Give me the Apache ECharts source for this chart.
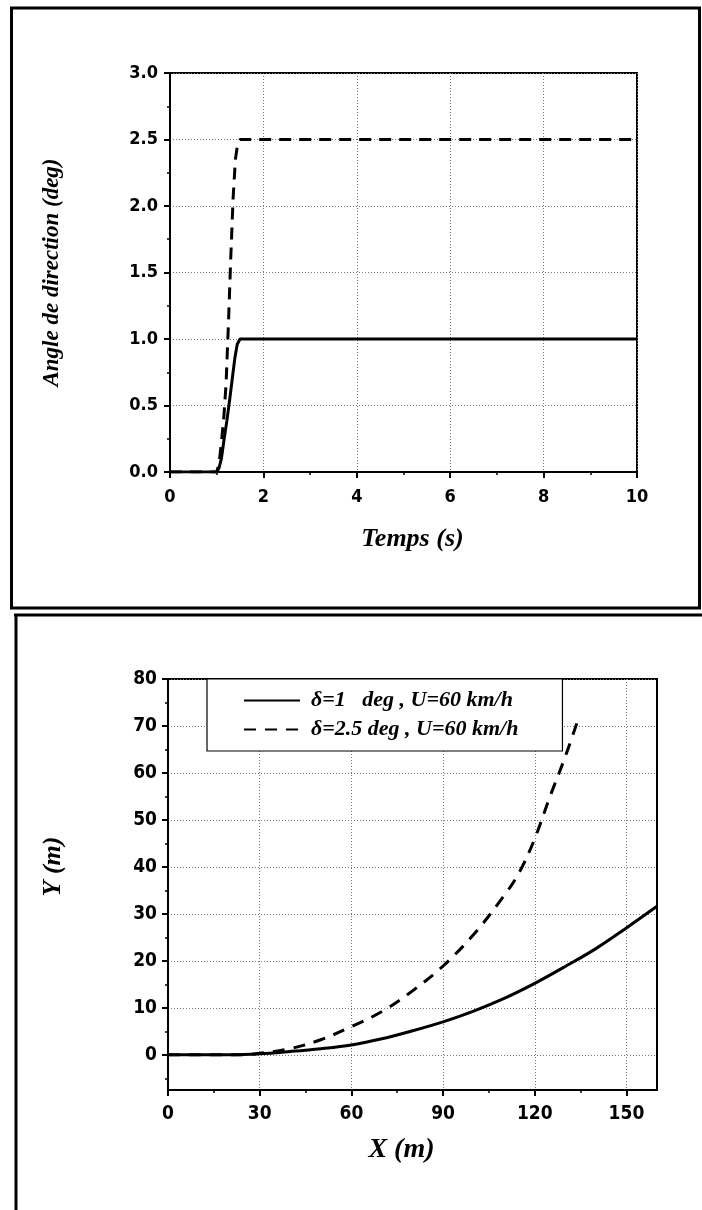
<!DOCTYPE html>
<html>
<head>
<meta charset="utf-8">
<script src="https://cdn.jsdelivr.net/npm/echarts@6/dist/echarts.min.js"></script>
<style>
  html, body { margin: 0; padding: 0; background: #fff; }
  #chart { width: 702px; height: 1210px; }
</style>
</head>
<body>
<div id="chart"></div>
<script>
// Steering angle input: time (s) vs angle (deg)
const steer1 = [[0, 0], [1.0, 0], [1.05, 0.03], [1.1, 0.1], [1.16, 0.25], [1.22, 0.39], [1.28, 0.55],
  [1.34, 0.72], [1.39, 0.86], [1.44, 0.96], [1.5, 1.0], [10, 1.0]];
const steer25 = [[0, 0], [1.0, 0], [1.05, 0.06], [1.1, 0.22], [1.15, 0.4], [1.2, 0.66], [1.25, 1.1],
  [1.3, 1.6], [1.35, 2.05], [1.4, 2.35], [1.45, 2.47], [1.5, 2.5], [10, 2.5]];

// Vehicle trajectory: X (m) vs Y (m)
const path1 = [[0, 0], [20, 0], [30, 0.2], [40, 0.7], [50, 1.3], [60, 2.1], [70, 3.4], [80, 5.1],
  [90, 7.0], [100, 9.3], [110, 12.0], [120, 15.2], [130, 18.8], [140, 22.6], [150, 27.0], [160, 31.6]];
const path25 = [[0, 0], [25, 0], [30, 0.3], [40, 1.3], [50, 3.2], [60, 6.0], [70, 9.2], [80, 13.6],
  [90, 18.9], [100, 25.6], [110, 33.9], [115, 38.9], [120, 46.0], [125, 55.0], [130, 63.5], [134.5, 72]];

// Tick values
const timeTicks = [0, 2, 4, 6, 8, 10];
const angleTicks = [0, 0.5, 1.0, 1.5, 2.0, 2.5, 3.0];
const xTicks = [0, 30, 60, 90, 120, 150];
const xMinorTicks = [15, 45, 75, 105, 135];
const yTicks = [0, 10, 20, 30, 40, 50, 60, 70, 80];
const yMinorTicks = [-5, 5, 15, 25, 35, 45, 55, 65, 75];

const legendNames = ['\u03B4=1   deg , U=60 km/h', '\u03B4=2.5 deg , U=60 km/h'];

const numFont = { fontFamily: '"Liberation Sans Narrow", "DejaVu Sans Condensed", "Liberation Sans", sans-serif', fontWeight: 'bold', color: '#000' };
const titleFont = { fontFamily: '"Liberation Serif", "DejaVu Serif", serif', fontWeight: 'bold', fontStyle: 'italic', color: '#000' };
const gridLine = { show: true, lineStyle: { color: '#777', width: 1, type: [1, 2] } };
const axisLine = { show: true, onZero: false, lineStyle: { color: '#000', width: 2 } };

const chart = echarts.init(document.getElementById('chart'), null, { renderer: 'canvas' });

chart.setOption({
  animation: false,
  backgroundColor: '#fff',
  grid: [
    { left: 170, top: 73, width: 467, height: 399, show: true, borderColor: '#000', borderWidth: 2, backgroundColor: 'transparent' },
    { left: 168, top: 679, width: 489, height: 411, show: true, borderColor: '#000', borderWidth: 2, backgroundColor: 'transparent' }
  ],
  xAxis: [
    {
      type: 'value', gridIndex: 0, min: 0, max: 10, interval: 2,
      name: 'Temps (s)', nameLocation: 'middle', nameGap: 54,
      nameTextStyle: Object.assign({ fontSize: 26, padding: [0, 0, 0, 18] }, titleFont),
      axisLine: axisLine,
      axisTick: { show: true, inside: false, length: 6, lineStyle: { color: '#000', width: 2 } },
      minorTick: { show: true, splitNumber: 2, length: 3, lineStyle: { color: '#000', width: 1.5 } },
      axisLabel: Object.assign({ fontSize: 18, margin: 16, customValues: timeTicks }, numFont),
      splitLine: gridLine
    },
    {
      type: 'value', gridIndex: 1, min: 0, max: 160,
      name: 'X (m)', nameLocation: 'middle', nameGap: 46,
      nameTextStyle: Object.assign({ fontSize: 28, padding: [0, 22, 0, 0] }, titleFont),
      axisLine: axisLine,
      axisTick: { show: true, inside: false, length: 6, customValues: xTicks, lineStyle: { color: '#000', width: 2 } },
      axisLabel: Object.assign({ fontSize: 19, margin: 15, customValues: xTicks }, numFont),
      splitLine: gridLine
    },
    {
      type: 'value', gridIndex: 1, min: 0, max: 160, position: 'bottom',
      axisLine: { show: false, onZero: false },
      axisTick: { show: true, inside: false, length: 3, customValues: xMinorTicks, lineStyle: { color: '#000', width: 1.5 } },
      axisLabel: { show: false },
      splitLine: { show: false }
    }
  ],
  yAxis: [
    {
      type: 'value', gridIndex: 0, min: 0, max: 3, interval: 0.5,
      name: 'Angle de direction (deg)', nameLocation: 'middle', nameGap: 106,
      nameTextStyle: Object.assign({ fontSize: 23 }, titleFont),
      axisLine: axisLine,
      axisTick: { show: true, inside: false, length: 6, lineStyle: { color: '#000', width: 2 } },
      minorTick: { show: true, splitNumber: 2, length: 3, lineStyle: { color: '#000', width: 1.5 } },
      axisLabel: Object.assign({ fontSize: 18, margin: 12, formatter: v => v.toFixed(1), customValues: angleTicks }, numFont),
      splitLine: gridLine
    },
    {
      type: 'value', gridIndex: 1, min: -7.5, max: 80,
      name: 'Y (m)', nameLocation: 'middle', nameGap: 102,
      nameTextStyle: Object.assign({ fontSize: 26, padding: [0, 0, 0, 36] }, titleFont),
      axisLine: axisLine,
      axisTick: { show: true, inside: false, length: 6, customValues: yTicks, lineStyle: { color: '#000', width: 2 } },
      axisLabel: Object.assign({ fontSize: 19, margin: 11, customValues: yTicks }, numFont),
      splitLine: gridLine
    },
    {
      type: 'value', gridIndex: 1, min: -7.5, max: 80, position: 'left',
      axisLine: { show: false, onZero: false },
      axisTick: { show: true, inside: false, length: 3, customValues: yMinorTicks, lineStyle: { color: '#000', width: 1.5 } },
      axisLabel: { show: false },
      splitLine: { show: false }
    }
  ],
  legend: {
    data: legendNames,
    orient: 'vertical',
    left: 207, top: 679,
    padding: [10, 44, 10, 36],
    itemWidth: 56, itemHeight: 14, itemGap: 6,
    backgroundColor: '#fff',
    borderColor: '#000', borderWidth: 1.2,
    itemStyle: { color: 'rgba(0,0,0,0)', borderWidth: 0 },
    textStyle: Object.assign({ fontSize: 22, lineHeight: 23, padding: [0, 0, 0, 6] }, titleFont),
    selectedMode: false
  },
  series: [
    {
      type: 'line', xAxisIndex: 0, yAxisIndex: 0, data: steer1, showSymbol: false, symbol: 'none',
      lineStyle: { color: '#000', width: 3 }, z: 5
    },
    {
      type: 'line', xAxisIndex: 0, yAxisIndex: 0, data: steer25, showSymbol: false, symbol: 'none',
      lineStyle: { color: '#000', width: 3, type: [12, 8] }, z: 5
    },
    {
      name: legendNames[0], type: 'line', xAxisIndex: 1, yAxisIndex: 1, data: path1,
      showSymbol: false, symbol: 'none', smooth: 0.35,
      lineStyle: { color: '#000', width: 3 }, itemStyle: { color: '#000' }, z: 5
    },
    {
      name: legendNames[1], type: 'line', xAxisIndex: 1, yAxisIndex: 1, data: path25,
      showSymbol: false, symbol: 'none', smooth: 0.35,
      lineStyle: { color: '#000', width: 3, type: [12, 9] }, itemStyle: { color: '#000' }, z: 5
    }
  ],
  graphic: [
    // frame around the upper panel
    { type: 'rect', shape: { x: 11.5, y: 8, width: 688, height: 600 }, style: { fill: 'none', stroke: '#000', lineWidth: 3 }, silent: true },
    // frame edges of the lower panel
    { type: 'line', shape: { x1: 14, y1: 615, x2: 702, y2: 615 }, style: { stroke: '#000', lineWidth: 3 }, silent: true },
    { type: 'line', shape: { x1: 16, y1: 614, x2: 16, y2: 1210 }, style: { stroke: '#000', lineWidth: 3 }, silent: true }
  ]
});
</script>
</body>
</html>
